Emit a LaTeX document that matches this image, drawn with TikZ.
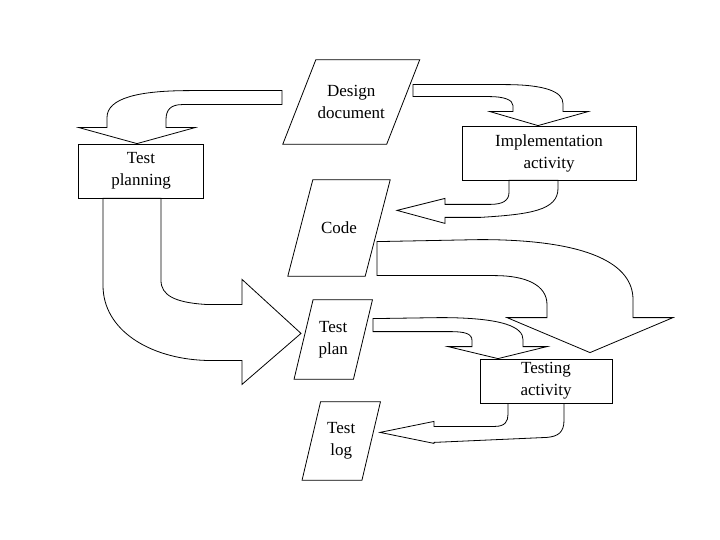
\documentclass[tikz,border=0pt]{standalone}
\usepackage{fontspec}
\setmainfont{Liberation Serif}
\usepackage{tikz}

\tikzset{
  activity/.style={draw, line width=0.8bp, inner sep=0pt, align=center},
  artifact/.style={inner sep=0pt, align=center},
  blockarrow/.style={draw, line width=0.8bp, line join=miter}
}
% parallelogram round a node: name, half of the slant
\newcommand{\docshape}[2]{%
  \draw[line width=0.8bp] ([xshift=-#2]#1.south west) -- ([xshift=#2]#1.north west)
    -- ([xshift=#2]#1.north east) -- ([xshift=-#2]#1.south east) -- cycle;}

\begin{document}
\begin{tikzpicture}[x=1bp, y=-1bp, font=\fontsize{17bp}{22bp}\selectfont]
  \useasboundingbox (0,0) rectangle (720,540);
  \node[artifact, minimum width=103.5bp, minimum height=84bp] (design) at (351.25,102) {Design\\document};
  \node[artifact, minimum width=77bp, minimum height=96bp] (code) at (339,228) {Code};
  \node[artifact, minimum width=59bp, minimum height=79bp] (plan) at (333.25,339.5) {Test\\plan};
  \node[artifact, minimum width=59.5bp, minimum height=78bp] (log) at (341.25,441) {Test\\log};
  \docshape{design}{16.5bp}
  \docshape{code}{12.5bp}
  \docshape{plan}{9.5bp}
  \docshape{log}{9.25bp}
  \node[activity, minimum width=125bp, minimum height=54bp] (planning) at (141,171) {Test\\planning};
  \node[activity, minimum width=174bp, minimum height=54bp] (impl) at (549,153) {Implementation\\activity};
  \node[activity, minimum width=132bp, minimum height=44bp] (testing) at (546,381) {Testing\\activity};

  \draw[blockarrow, shift={(planning.north)}] (-4,0) -- (-62,-16) -- (-34,-16) -- (-34,-26)
    .. controls (-34,-46) and (-1,-53) .. (49,-53) -- (141,-53) -- (141,-39) -- (41,-39)
    .. controls (30,-39) and (25,-34) .. (25,-24) -- (25,-16) -- (54,-16) -- cycle;
  \draw[blockarrow, shift={(impl.north)}] (-11,0) -- (-59,-14) -- (-36,-14) -- (-36,-20)
    .. controls (-36,-26) and (-46,-29) .. (-59,-29) -- (-136,-29) -- (-136,-41) -- (-44,-41)
    .. controls (-4,-41) and (14,-34) .. (14,-22) -- (14,-14) -- (39,-14) -- cycle;
  \draw[blockarrow, shift={(impl.south)}] (-152,30) -- (-104,18) -- (-104,24) -- (-59,24)
    .. controls (-46,24) and (-40,20) .. (-40,12) -- (-40,0) -- (9,0) -- (9,8)
    .. controls (9,30) and (-19,34) .. (-69,37) -- (-104,37) -- (-104,43) -- cycle;
  \draw[blockarrow, shift={(planning.south)}] (160,135) -- (101,81) -- (101,106) -- (64,106)
    .. controls (34,104) and (20,97) .. (20,82) -- (20,0) -- (-38,0) -- (-38,87)
    .. controls (-38,132) and (9,160) .. (64,162) -- (101,162) -- (101,186) -- cycle;
  \draw[blockarrow, shift={(testing.north)}] (44,-6) -- (-39,-41) -- (1,-41) -- (1,-54)
    .. controls (1,-74) and (-21,-83) .. (-51,-83) -- (-169,-83) -- (-169,-117) -- (-66,-119)
    .. controls (44,-119) and (87,-94) .. (87,-59) -- (87,-41) -- (127,-41) -- cycle;
  \draw[blockarrow, shift={(testing.north)}] (-48,0) -- (-98,-12) -- (-74,-12) -- (-74,-18)
    .. controls (-74,-25) and (-81,-27) .. (-96,-27) -- (-173,-27) -- (-173,-40) -- (-106,-41)
    .. controls (-41,-41) and (-23,-31) .. (-23,-19) -- (-23,-12) -- (1,-12) -- cycle;
  \draw[blockarrow, shift={(testing.south)}] (-166,29) -- (-112,18) -- (-112,23) -- (-51,23)
    .. controls (-41,23) and (-38,18) .. (-38,11) -- (-38,0) -- (18,0) -- (18,17)
    .. controls (18,29) and (12,33) .. (1,34) -- (-112,39) -- (-112,40) -- cycle;
\end{tikzpicture}
\end{document}
